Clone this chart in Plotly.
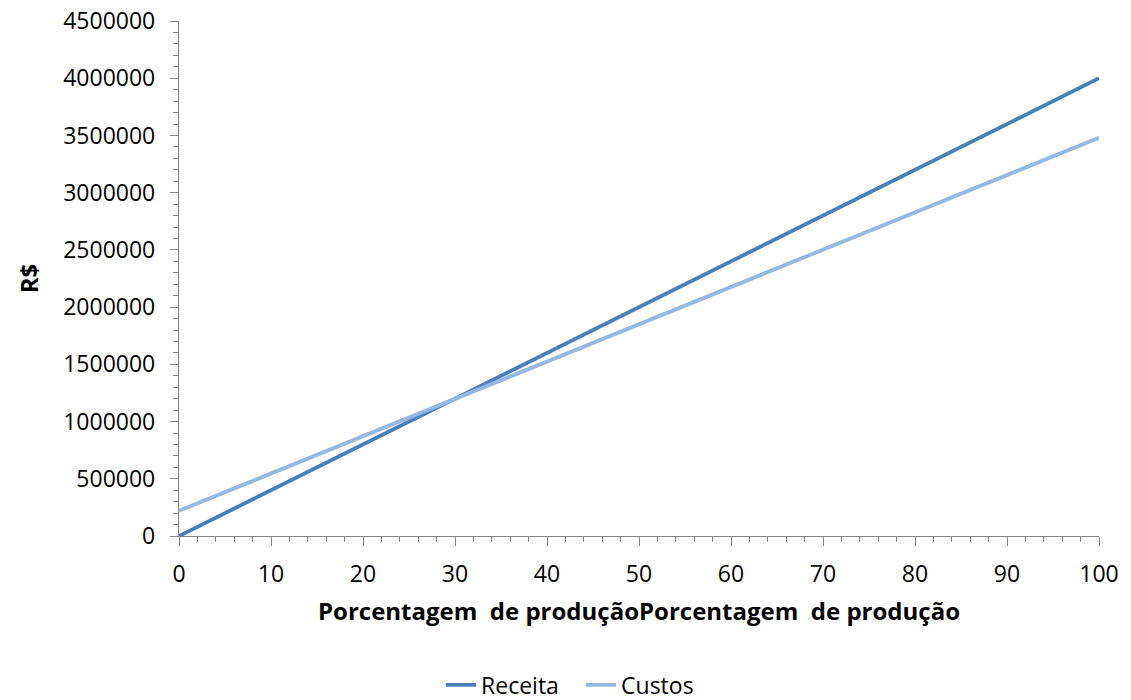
import plotly.graph_objects as go

# Production level (%) and the two financial series in R$
producao = [0, 10, 20, 30, 40, 50, 60, 70, 80, 90, 100]
receita = [0, 400000, 800000, 1200000, 1600000, 2000000, 2400000, 2800000, 3200000, 3600000, 4000000]
custos = [220000, 546000, 872000, 1198000, 1524000, 1850000, 2176000, 2502000, 2828000, 3154000, 3480000]

y_ticks = [0, 500000, 1000000, 1500000, 2000000, 2500000, 3000000, 3500000, 4000000, 4500000]
x_ticks = [0, 10, 20, 30, 40, 50, 60, 70, 80, 90, 100]

FONT = "Open Sans"
AXIS_GRAY = "#868686"
TICK_SIZE = 23
TITLE_SIZE = 24

fig = go.Figure()
fig.add_trace(go.Scatter(x=producao, y=receita, mode="lines", name="Receita",
                         line=dict(color="#4a7ebb", width=3.8)))
fig.add_trace(go.Scatter(x=producao, y=custos, mode="lines", name="Custos",
                         line=dict(color="#95b7e0", width=3.8)))

fig.update_layout(
    width=1131, height=700,
    margin=dict(l=179, r=32, t=21, b=164, autoexpand=False),
    paper_bgcolor="white", plot_bgcolor="white",
    font=dict(family=FONT, size=TICK_SIZE, color="black"),
    showlegend=True,
    legend=dict(orientation="h", x=0.437, xanchor="center", y=-0.289, yanchor="middle",
                font=dict(family=FONT, size=TICK_SIZE), tracegroupgap=0,
                entrywidth=95, entrywidthmode="pixels"),
    xaxis=dict(
        range=[0, 100], tickvals=x_ticks, ticktext=[str(v) for v in x_ticks],
        showgrid=False, zeroline=False,
        showline=True, linecolor=AXIS_GRAY, linewidth=1.3,
        ticks="outside", ticklen=9, tickcolor=AXIS_GRAY, tickwidth=1.3,
        ticklabelstandoff=8,
        minor=dict(dtick=2, ticks="outside", ticklen=5, tickcolor=AXIS_GRAY, tickwidth=1.3),
        tickfont=dict(family=FONT, size=TICK_SIZE),
        title=dict(text="<b>Porcentagem  de produçãoPorcentagem  de produção</b>",
                   font=dict(family=FONT, size=TITLE_SIZE), standoff=15),
    ),
    yaxis=dict(
        range=[0, 4500000], tickvals=y_ticks, ticktext=[str(v) for v in y_ticks],
        showgrid=False, zeroline=False,
        showline=True, linecolor=AXIS_GRAY, linewidth=1.3,
        ticks="outside", ticklen=8, tickcolor=AXIS_GRAY, tickwidth=1.3,
        ticklabelstandoff=10,
        minor=dict(dtick=100000, ticks="outside", ticklen=5, tickcolor=AXIS_GRAY, tickwidth=1.3),
        tickfont=dict(family=FONT, size=TICK_SIZE),
        title=dict(text="<b>R$</b>", font=dict(family=FONT, size=TITLE_SIZE), standoff=17),
    ),
)

fig.write_html("out.html")
